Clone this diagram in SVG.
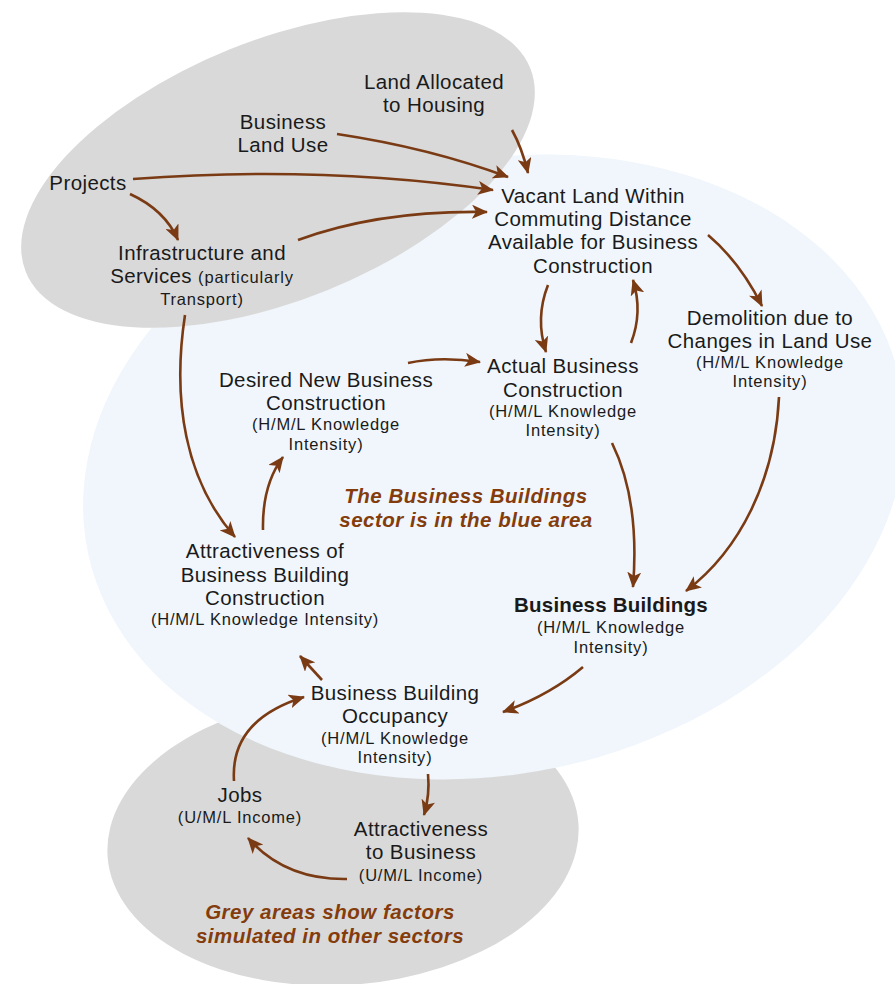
<svg xmlns="http://www.w3.org/2000/svg" width="895" height="984" viewBox="0 0 895 984">
<defs>
<marker id="ah" markerUnits="userSpaceOnUse" markerWidth="16" markerHeight="14" viewBox="0 0 16 14" refX="15" refY="7" orient="auto">
<path d="M0,0 L16,7 L0,14 L4,7 Z" fill="#7a3b14"/>
</marker>
</defs>
<style>
.t{font-family:"Liberation Sans",Arial,sans-serif;font-size:20.5px;letter-spacing:0.4px;fill:#1a1a1a;text-anchor:middle}
.s{font-size:16.5px;letter-spacing:0.8px}
.b{font-weight:bold;letter-spacing:0.2px}
.i{font-family:"Liberation Sans",Arial,sans-serif;font-size:20.5px;letter-spacing:0.5px;font-weight:bold;font-style:italic;fill:#843c0c;text-anchor:middle}
.c{fill:none;stroke:#7a3b14;stroke-width:2.6;marker-end:url(#ah)}
</style>
<rect width="895" height="984" fill="#ffffff"/>
<g id="areas">
<ellipse cx="343" cy="840" rx="236" ry="145" transform="rotate(-4 343 840)" fill="#d9d9d9"/>
<ellipse cx="494" cy="467" rx="415" ry="307" transform="rotate(-12 494 467)" fill="#f0f6fc"/>
<ellipse cx="278" cy="170" rx="272" ry="130" transform="rotate(-22 278 170)" fill="#d9d9d9"/>
</g>
<g id="connectors">
<path class="c" d="M512,130 Q522,148 528,173"/>
<path class="c" d="M337,134 Q430,148 508,177"/>
<path class="c" d="M133,179 Q320,165 493,190"/>
<path class="c" d="M298,240 Q380,210 487,212"/>
<path class="c" d="M130,194 Q165,210 178,240"/>
<path class="c" d="M185,315 C172,400 185,480 235,537"/>
<path class="c" d="M263,530 Q262,485 283,457"/>
<path class="c" d="M408,363 Q440,356 480,362"/>
<path class="c" d="M548,285 Q535,318 546,352"/>
<path class="c" d="M631,343 Q643,312 633,280"/>
<path class="c" d="M708,235 Q740,262 762,306"/>
<path class="c" d="M779,397 C775,480 740,550 686,591"/>
<path class="c" d="M612,443 Q640,500 633,587"/>
<path class="c" d="M583,667 Q550,695 503,712"/>
<path class="c" d="M322,680 L300,656"/>
<path class="c" d="M234,781 Q230,720 304,697"/>
<path class="c" d="M428,774 Q430,795 424,815"/>
<path class="c" d="M347,879 Q285,880 248,838"/>
</g>
<g id="land-allocated"><text class="t" x="434" y="89">Land Allocated</text><text class="t" x="434" y="112">to Housing</text></g>
<g id="business-land-use"><text class="t" x="283" y="129">Business</text><text class="t" x="283" y="152">Land Use</text></g>
<g id="projects"><text class="t" x="88" y="190">Projects</text></g>
<g id="infrastructure"><text class="t" x="202" y="260">Infrastructure and</text><text class="t" x="202" y="283">Services <tspan class="s">(particularly</tspan></text><text class="t s" x="202" y="305">Transport)</text></g>
<g id="vacant-land"><text class="t" x="593" y="203">Vacant Land Within</text><text class="t" x="593" y="226">Commuting Distance</text><text class="t" x="593" y="249">Available for Business</text><text class="t" x="593" y="273">Construction</text></g>
<g id="actual-construction"><text class="t" x="563" y="373">Actual Business</text><text class="t" x="563" y="397">Construction</text><text class="t s" x="563" y="417">(H/M/L Knowledge</text><text class="t s" x="563" y="436">Intensity)</text></g>
<g id="demolition"><text class="t" x="770" y="325">Demolition due to</text><text class="t" x="770" y="348">Changes in Land Use</text><text class="t s" x="770" y="368">(H/M/L Knowledge</text><text class="t s" x="770" y="387">Intensity)</text></g>
<g id="desired-construction"><text class="t" x="326" y="387">Desired New Business</text><text class="t" x="326" y="410">Construction</text><text class="t s" x="326" y="430">(H/M/L Knowledge</text><text class="t s" x="326" y="450">Intensity)</text></g>
<g id="attractiveness-construction"><text class="t" x="265" y="558">Attractiveness of</text><text class="t" x="265" y="582">Business Building</text><text class="t" x="265" y="605">Construction</text><text class="t s" x="265" y="625">(H/M/L Knowledge Intensity)</text></g>
<g id="note-blue"><text class="i" x="466" y="503">The Business Buildings</text><text class="i" x="466" y="527">sector is in the blue area</text></g>
<g id="business-buildings"><text class="t b" x="611" y="612">Business Buildings</text><text class="t s" x="611" y="633">(H/M/L Knowledge</text><text class="t s" x="611" y="653">Intensity)</text></g>
<g id="occupancy"><text class="t" x="395" y="700">Business Building</text><text class="t" x="395" y="723">Occupancy</text><text class="t s" x="395" y="744">(H/M/L Knowledge</text><text class="t s" x="395" y="763">Intensity)</text></g>
<g id="jobs"><text class="t" x="240" y="802">Jobs</text><text class="t s" x="240" y="823">(U/M/L Income)</text></g>
<g id="attractiveness-business"><text class="t" x="421" y="836">Attractiveness</text><text class="t" x="421" y="859">to Business</text><text class="t s" x="421" y="881">(U/M/L Income)</text></g>
<g id="note-grey"><text class="i" x="330" y="919">Grey areas show factors</text><text class="i" x="330" y="943">simulated in other sectors</text></g>
</svg>
